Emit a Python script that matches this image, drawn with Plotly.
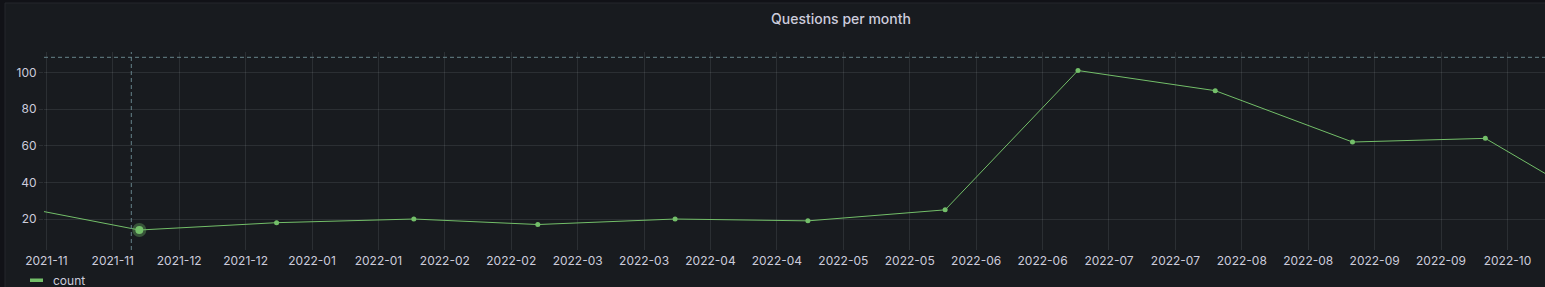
import plotly.graph_objects as go

# ---- data ----
months = ["2021-11-01", "2021-12-01", "2022-01-01", "2022-02-01", "2022-03-01",
          "2022-04-01", "2022-05-01", "2022-06-01", "2022-07-01", "2022-08-01",
          "2022-09-01", "2022-10-01", "2022-11-01"]
counts = [28, 14, 18, 20, 17, 20, 19, 25, 101, 90, 62, 64, 20]
series_name = "count"
title_text = "Questions per month"

# hover cursor state (as seen in the screenshot)
cursor_x = "2021-11-29 04:30"
cursor_y = 108.2
hover_index = 1

# ---- layout constants ----
W, H = 1545, 287
ML, MR, MT, MB = 44, 0, 52, 37
PW, PH = W - ML - MR, H - MT - MB

def px_x(p):
    return (p - ML) / PW

def px_y(p):
    return 1 - (p - MT) / PH

GREEN = "#73BF69"
TEXT = "#ccccdc"
GRID = "rgba(240,250,255,0.09)"
PANEL = "#181b1f"
OUTER = "#111217"
CURSOR = "#66828a"

fig = go.Figure()
fig.add_trace(go.Scatter(
    x=months, y=counts, mode="lines+markers", name=series_name,
    line=dict(color=GREEN, width=1),
    marker=dict(color=GREEN, size=5, line=dict(width=0)),
    hoverinfo="skip", showlegend=False,
))
# highlighted (hovered) point
fig.add_trace(go.Scatter(
    x=[months[hover_index]], y=[counts[hover_index]], mode="markers",
    marker=dict(color="rgba(115,191,105,0.35)", size=14, line=dict(width=0)),
    hoverinfo="skip", showlegend=False,
))
fig.add_trace(go.Scatter(
    x=[months[hover_index]], y=[counts[hover_index]], mode="markers",
    marker=dict(color=GREEN, size=8, line=dict(width=0)),
    hoverinfo="skip", showlegend=False,
))

shapes = [
    # panel background
    dict(type="rect", xref="paper", yref="paper",
         x0=px_x(5), x1=px_x(W + 200), y0=px_y(3), y1=px_y(H + 50),
         fillcolor=PANEL, line=dict(color="#24272c", width=1), layer="below"),
    # cursor crosshair
    dict(type="line", xref="x", yref="paper", x0=cursor_x, x1=cursor_x,
         y0=0, y1=1, line=dict(color=CURSOR, width=1, dash="4px,3px")),
    dict(type="line", xref="paper", yref="y", x0=0, x1=1,
         y0=cursor_y, y1=cursor_y, line=dict(color=CURSOR, width=1, dash="4px,3px")),
    # legend swatch
    dict(type="rect", xref="paper", yref="paper",
         x0=px_x(30), x1=px_x(43), y0=px_y(278.5), y1=px_y(282),
         fillcolor=GREEN, line=dict(width=0)),
]

annotations = [
    dict(text=title_text, xref="paper", yref="paper", x=px_x(841), y=px_y(19),
         xanchor="center", yanchor="middle", showarrow=False,
         font=dict(family="Inter", size=14, color=TEXT, weight=500)),
    dict(text=series_name, xref="paper", yref="paper", x=px_x(51), y=px_y(280),
         xanchor="left", yanchor="middle", showarrow=False,
         font=dict(family="Inter", size=12, color=TEXT)),
]

fig.update_layout(
    width=W, height=H,
    margin=dict(l=ML, r=MR, t=MT, b=MB),
    paper_bgcolor=OUTER, plot_bgcolor="rgba(0,0,0,0)",
    font=dict(family="Inter", size=12, color=TEXT),
    shapes=shapes, annotations=annotations,
    showlegend=False,
)
fig.update_xaxes(
    type="date",
    range=["2021-11-09 11:15", "2022-10-14 11:30"],
    tick0="2021-11-10", dtick=15 * 24 * 3600 * 1000,
    tickformat="%Y-%m",
    showgrid=True, gridcolor=GRID, gridwidth=1,
    zeroline=False, showline=False, ticks="", ticklabelstandoff=2,
    tickfont=dict(family="Inter", size=12, color=TEXT),
)
fig.update_yaxes(
    range=[3.1, 111.1], tick0=0, dtick=20,
    showgrid=True, gridcolor=GRID, gridwidth=1,
    zeroline=False, showline=False,
    ticks="outside", ticklen=4, tickcolor=GRID,
    tickfont=dict(family="Inter", size=12, color=TEXT),
)

fig.write_html("out.html")
